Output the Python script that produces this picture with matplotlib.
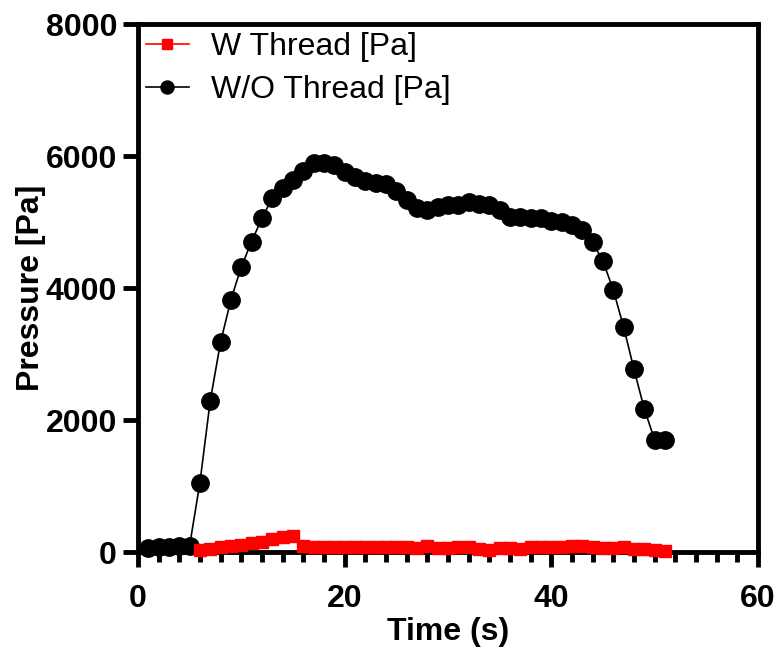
import matplotlib.pyplot as plt
from matplotlib.ticker import MultipleLocator

plt.rcParams['font.family'] = ['Liberation Sans', 'DejaVu Sans']

# W/O thread, t = 1..51 s
time_wo = list(range(1, 52))
pressure_wo = [60, 70, 80, 90, 90, 1050, 2290, 3180, 3820, 4320,
               4700, 5060, 5360, 5520, 5640, 5770, 5890, 5900, 5870, 5760,
               5680, 5620, 5590, 5580, 5470, 5330, 5210, 5180, 5230, 5260,
               5260, 5300, 5270, 5260, 5180, 5080, 5070, 5060, 5060, 5020,
               5000, 4960, 4880, 4690, 4410, 3970, 3410, 2770, 2170, 1700,
               1700]

# W thread, t = 6..51 s
time_w = list(range(6, 52))
pressure_w = [30, 50, 70, 90, 110, 130, 150, 190, 230, 250,
              90, 80, 80, 70, 80, 70, 75, 70, 75, 70,
              70, 60, 90, 60, 60, 70, 70, 50, 30, 60,
              60, 50, 70, 70, 80, 80, 90, 90, 70, 60,
              60, 70, 50, 40, 30, 20]

fig = plt.figure(figsize=(7.79, 6.6), dpi=100)
ax = fig.add_axes([0.177, 0.1636, 0.796, 0.8])

ax.plot(time_w, pressure_w, color='#ff0000', marker='s', markersize=9,
        linewidth=1.2, label='W Thread [Pa]', clip_on=False, zorder=3)
ax.plot(time_wo, pressure_wo, color='black', marker='o', markersize=12.5,
        linewidth=1.2, label='W/O Thread [Pa]', clip_on=False, zorder=2)

ax.set_xlim(0, 60)
ax.set_ylim(0, 8000)
ax.xaxis.set_major_locator(MultipleLocator(20))
ax.xaxis.set_minor_locator(MultipleLocator(2))
ax.yaxis.set_major_locator(MultipleLocator(2000))

for s in ax.spines.values():
    s.set_linewidth(3.5)
ax.tick_params(which='major', length=11, width=3.5, labelsize=23, pad=4)
ax.tick_params(which='minor', length=7, width=3.5)
ax.tick_params(axis='x', which='major', pad=12)
for lbl in ax.get_xticklabels() + ax.get_yticklabels():
    lbl.set_fontweight('bold')

ax.set_xlabel('Time (s)', fontsize=23, fontweight='bold', labelpad=2)
ax.set_ylabel('Pressure [Pa]', fontsize=23, fontweight='bold', labelpad=0)

ax.legend(loc='upper left', frameon=False, fontsize=23, markerscale=0.75,
          handlelength=1.35, handletextpad=0.7, borderaxespad=0.0,
          labelspacing=0.4, borderpad=0.25)

fig.savefig('out.png', dpi=100)
